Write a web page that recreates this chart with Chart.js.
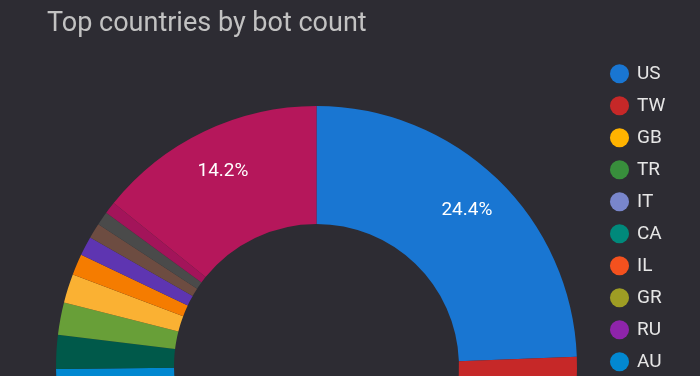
<!DOCTYPE html>
<html>
<head>
<meta charset="utf-8">
<title>Top countries by bot count</title>
<script src="https://cdn.jsdelivr.net/npm/chart.js@4.4.0/dist/chart.umd.min.js"></script>
<style>
  html, body { margin: 0; padding: 0; background: #2d2c33; overflow: hidden; }
  #wrap { position: relative; width: 700px; height: 700px; }
</style>
</head>
<body>
<div id="wrap"><canvas id="botChart"></canvas></div>
<script>
'use strict';

//Chart data
var chartTitle = 'Top countries by bot count';
var countries = ['US', 'TW', 'GB', 'TR', 'IT', 'CA', 'IL', 'GR', 'RU', 'AU',
  'DE', 'FR', 'NL', 'BR', 'IN', 'JP', 'KR', 'ES', 'Other'];
// share of bots, in percent
var botShare = [24.4, 11.9, 8.0, 6.4, 5.3, 4.6, 4.0, 3.7, 3.4, 3.15,
  2.1, 2.0, 1.8, 1.3, 1.2, 0.95, 0.85, 0.75, 14.2];
var sliceColors = ['#1976d2', '#c62828', '#ffb300', '#388e3c', '#7986cb', '#00897b', '#f4511e', '#9e9d24', '#8e24aa', '#0288d1',
  '#00594a', '#689f38', '#fab133', '#f57c00', '#5e35b1', '#6d4c41', '#4a4a4a', '#a3145a', '#b5175b'];

//Percent labels drawn inside the big slices
var sliceLabels = {
  id: 'sliceLabels',
  afterDatasetsDraw: function(chart) {
    var ctx = chart.ctx;
    var meta = chart.getDatasetMeta(0);
    var total = botShare.reduce(function(a, b) { return a + b; }, 0);
    ctx.save();
    ctx.font = '19px Roboto';
    ctx.fillStyle = '#ffffff';
    ctx.textAlign = 'center';
    ctx.textBaseline = 'middle';
    meta.data.forEach(function(arc, i) {
      var pct = botShare[i] / total * 100;
      if (pct < 10) {
        return;
      }
      var p = arc.getProps(['x', 'y', 'startAngle', 'endAngle', 'innerRadius', 'outerRadius'], true);
      var mid = (p.startAngle + p.endAngle) / 2;
      var r = p.innerRadius + (p.outerRadius - p.innerRadius) * 0.63;
      ctx.fillText(pct.toFixed(1) + '%', p.x + Math.cos(mid) * r, p.y + Math.sin(mid) * r);
    });
    ctx.restore();
  }
};

//Title sits at the top left, over the padding
var leftTitle = {
  id: 'leftTitle',
  afterDraw: function(chart) {
    var ctx = chart.ctx;
    ctx.save();
    ctx.font = '27px Roboto';
    ctx.fillStyle = '#c2c2c2';
    ctx.textBaseline = 'alphabetic';
    ctx.fillText(chartTitle, 47, 31);
    ctx.restore();
  }
};

var ctx = document.getElementById('botChart').getContext('2d');

var chart = new Chart(ctx, {
  type: 'doughnut',
  data: {
    labels: countries,
    datasets: [{
      data: botShare,
      backgroundColor: sliceColors,
      borderWidth: 0
    }]
  },
  options: {
    responsive: true,
    maintainAspectRatio: false,
    animation: false,
    radius: 260.5,
    cutout: '54.7%',
    layout: {
      padding: { top: 51.3, left: 34.5, right: 21.5, bottom: 18.3 }
    },
    plugins: {
      tooltip: { enabled: false },
      legend: {
        position: 'right',
        align: 'start',
        maxWidth: 80,
        labels: {
          usePointStyle: true,
          pointStyle: 'circle',
          boxWidth: 16,
          boxHeight: 13.5,
          padding: 13,
          color: '#e6e6e6',
          font: { family: 'Roboto', size: 19 }
        }
      }
    }
  },
  plugins: [sliceLabels, leftTitle]
});
</script>
</body>
</html>
